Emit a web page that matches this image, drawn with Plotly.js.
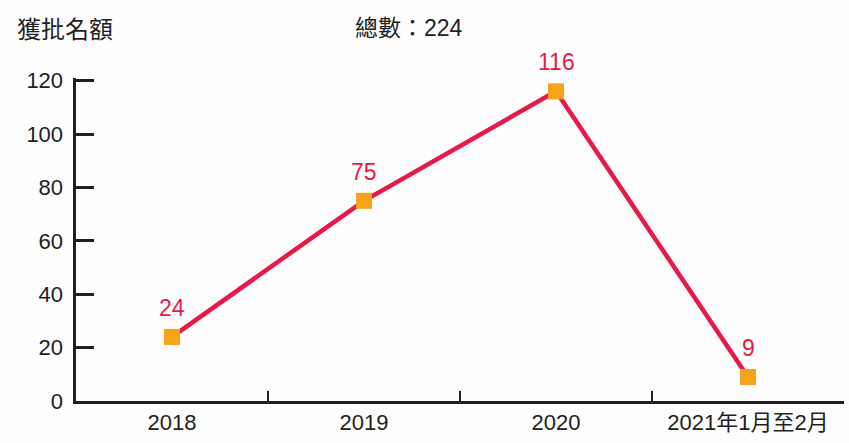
<!DOCTYPE html>
<html>
<head>
<meta charset="utf-8">
<script src="https://cdn.plot.ly/plotly-3.0.1.min.js"></script>
<style>html,body{margin:0;padding:0;background:#fdfdfd;}#chart{width:849px;height:443px;}</style>
</head>
<body>
<div id="chart"></div>
<script>
const categories = ['2018', '2019', '2020', '2021年1月至2月'];
const approved = [24, 75, 116, 9];
const yTicks = [0, 20, 40, 60, 80, 100, 120];
const yAxisLabel = '獲批名額';
const totalLabel = '總數：224';

const numFont = 'Liberation Sans, Arial, Noto Sans CJK TC, sans-serif';
const ink = '#231f20';
const red = '#e8194a';

const trace = {
  x: categories,
  y: approved,
  type: 'scatter',
  mode: 'lines+markers',
  line: {color: red, width: 4.5},
  marker: {symbol: 'square', size: 16, color: '#f5a31a'},
  cliponaxis: false,
  hoverinfo: 'skip'
};

const valueLabels = approved.map((v, i) => ({
  x: i, y: v, xref: 'x', yref: 'y',
  text: String(v), showarrow: false,
  xanchor: 'center', yanchor: 'bottom', yshift: 14,
  font: {family: numFont, size: 23, color: red}
}));

const layout = {
  width: 849, height: 443,
  margin: {l: 76, r: 5, t: 78, b: 42},
  paper_bgcolor: '#fdfdfd',
  plot_bgcolor: 'rgba(0,0,0,0)',
  showlegend: false,
  font: {family: numFont, size: 22, color: ink},
  xaxis: {
    type: 'category',
    range: [-0.5, 3.5],
    showline: true, linecolor: ink, linewidth: 3,
    ticks: 'inside', tickson: 'boundaries', ticklen: 10, tickwidth: 2, tickcolor: ink,
    showgrid: false, zeroline: false,
    tickfont: {family: numFont, size: 22, color: ink}
  },
  yaxis: {
    range: [0, 121],
    tickvals: yTicks,
    ticktext: yTicks.map(v => v + '\u2005'),
    showline: true, linecolor: ink, linewidth: 3,
    ticks: 'inside', ticklen: 18, tickwidth: 3, tickcolor: ink,
    showgrid: false, zeroline: false,
    tickfont: {family: numFont, size: 22, color: ink}
  },
  annotations: [
    {text: yAxisLabel, xref: 'paper', yref: 'paper', x: -0.08, y: 1.156,
     xanchor: 'left', yanchor: 'middle', showarrow: false,
     font: {family: 'Noto Sans CJK TC, sans-serif', size: 24, color: ink}},
    {text: totalLabel, xref: 'paper', yref: 'paper', x: 0.433, y: 1.156,
     xanchor: 'center', yanchor: 'middle', showarrow: false,
     font: {family: numFont, size: 23, color: ink}}
  ].concat(valueLabels)
};

Plotly.newPlot('chart', [trace], layout, {displayModeBar: false, staticPlot: true});
</script>
</body>
</html>
